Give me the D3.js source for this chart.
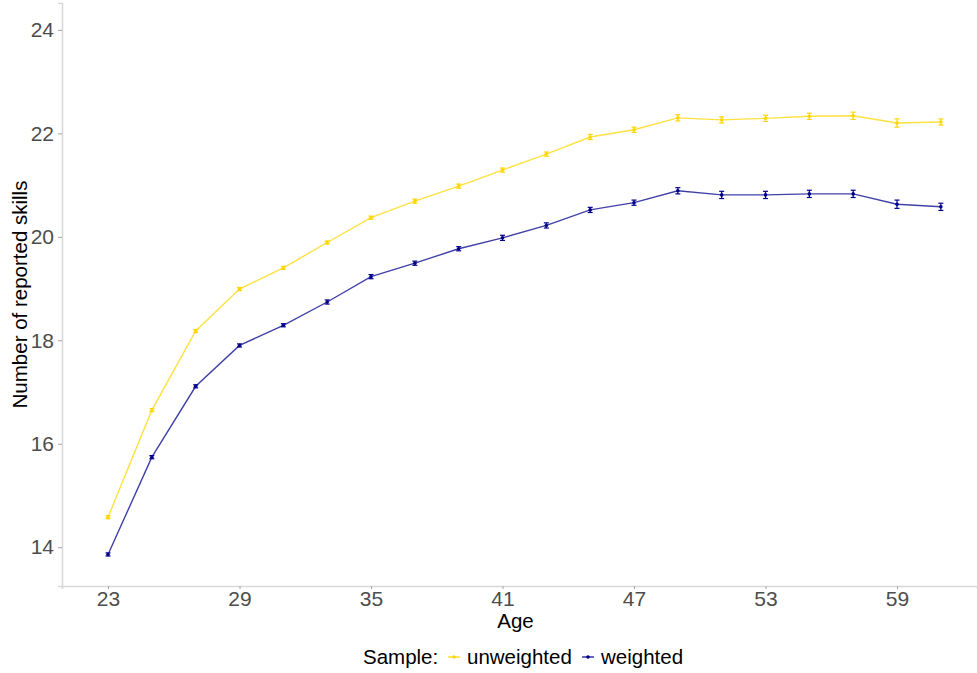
<!DOCTYPE html>
<html>
<head>
<meta charset="utf-8">
<script src="https://cdn.jsdelivr.net/npm/d3@7"></script>
<style>
  body { margin: 0; background: #fff; }
  text { font-family: "Liberation Sans", Arial, sans-serif; }
</style>
</head>
<body>
<div id="chart"></div>
<script>
// --- Data ---
const ages = [23, 25, 27, 29, 31, 33, 35, 37, 39, 41, 43, 45, 47, 49, 51, 53, 55, 57, 59, 61];
const unweighted = [14.58, 16.65, 18.18, 18.99, 19.40, 19.89, 20.37, 20.69, 20.98, 21.29, 21.60, 21.93, 22.07, 22.30, 22.26, 22.29, 22.33, 22.34, 22.20, 22.22];
const unweightedSE = [0.03, 0.03, 0.03, 0.03, 0.03, 0.03, 0.03, 0.04, 0.04, 0.04, 0.04, 0.05, 0.05, 0.06, 0.06, 0.06, 0.06, 0.07, 0.08, 0.06];
const weighted = [13.86, 15.74, 17.11, 17.90, 18.29, 18.74, 19.23, 19.49, 19.77, 19.98, 20.22, 20.52, 20.66, 20.89, 20.81, 20.81, 20.83, 20.83, 20.63, 20.58];
const weightedSE = [0.03, 0.03, 0.03, 0.03, 0.03, 0.04, 0.04, 0.04, 0.04, 0.05, 0.05, 0.05, 0.05, 0.06, 0.07, 0.07, 0.07, 0.07, 0.08, 0.07];
const xTicks = [23, 29, 35, 41, 47, 53, 59];
const yTicks = [14, 16, 18, 20, 22, 24];
const seriesNames = ["unweighted", "weighted"];
const seriesColors = ["#FFD700", "#00008B"];

const W = 977, H = 673;
const margin = { top: 3, right: 0, bottom: 87, left: 62 };
const width = W - margin.left - margin.right,
      height = H - margin.top - margin.bottom;

const svg = d3.select("#chart").append("svg")
  .attr("width", W).attr("height", H);
const g = svg.append("g")
  .attr("transform", `translate(${margin.left},${margin.top})`);

// --- Scales ---
const x = d3.scaleLinear().domain([20.9, 62.65]).range([0, width]);
const y = d3.scaleLinear().domain([13.25, 24.52]).range([height, 0]);

// --- Axes ---
const xAxis = g.append("g")
  .attr("transform", `translate(0,${height})`)
  .call(d3.axisBottom(x).tickValues(xTicks).tickSize(3).tickPadding(2).tickFormat(d3.format("d")));
const yAxis = g.append("g")
  .call(d3.axisLeft(y).tickValues(yTicks).tickSize(4).tickPadding(4).tickFormat(d3.format("d")));

[xAxis, yAxis].forEach(a => {
  a.select(".domain").attr("stroke", "#d9d9d9").attr("stroke-width", 1.6);
  a.selectAll(".tick line").attr("stroke", "#a6a6a6");
  a.selectAll(".tick text")
    .attr("fill", "#4d4d4d")
    .style("font-size", "21px")
    .style("font-family", "'Liberation Sans', Arial, sans-serif");
});

// --- Series ---
const series = seriesNames.map((name, i) => ({
  name,
  color: seriesColors[i],
  values: ages.map((a, j) => ({
    age: a,
    v: i === 0 ? unweighted[j] : weighted[j],
    se: i === 0 ? unweightedSE[j] : weightedSE[j]
  }))
}));

const line = d3.line().x(d => x(d.age)).y(d => y(d.v));

series.forEach(s => {
  g.append("path")
    .datum(s.values)
    .attr("fill", "none")
    .attr("stroke", s.color)
    .attr("stroke-opacity", 0.75)
    .attr("stroke-width", 1.4)
    .attr("d", line);

  const eb = g.append("g").selectAll("g")
    .data(s.values).enter().append("g")
    .attr("stroke", s.color).attr("stroke-width", 1.2);
  eb.append("line")
    .attr("x1", d => x(d.age)).attr("x2", d => x(d.age))
    .attr("y1", d => y(d.v - d.se)).attr("y2", d => y(d.v + d.se));
  eb.append("line")
    .attr("x1", d => x(d.age) - 2.5).attr("x2", d => x(d.age) + 2.5)
    .attr("y1", d => y(d.v - d.se)).attr("y2", d => y(d.v - d.se));
  eb.append("line")
    .attr("x1", d => x(d.age) - 2.5).attr("x2", d => x(d.age) + 2.5)
    .attr("y1", d => y(d.v + d.se)).attr("y2", d => y(d.v + d.se));

  g.append("g").selectAll("circle")
    .data(s.values).enter().append("circle")
    .attr("cx", d => x(d.age)).attr("cy", d => y(d.v))
    .attr("r", 1.8).attr("fill", s.color);
});

// --- Axis titles ---
svg.append("text")
  .attr("x", margin.left + width / 2 - 4)
  .attr("y", 628)
  .attr("text-anchor", "middle")
  .style("font-size", "20.5px")
  .attr("fill", "#000")
  .text("Age");

svg.append("text")
  .attr("transform", "rotate(-90)")
  .attr("x", -(margin.top + height / 2))
  .attr("y", 27)
  .attr("text-anchor", "middle")
  .style("font-size", "20.5px")
  .attr("fill", "#000")
  .text("Number of reported skills");

// --- Legend ---
const legend = svg.append("g").attr("transform", "translate(363,664)");
legend.append("text").attr("x", 0).attr("y", 0)
  .style("font-size", "20.5px").text("Sample:");
const keyX = [85, 219];
series.forEach((s, i) => {
  const k = legend.append("g").attr("transform", `translate(${keyX[i]},-7)`);
  k.append("line").attr("x1", 0).attr("x2", 12).attr("y1", 0).attr("y2", 0)
    .attr("stroke", s.color).attr("stroke-width", 1.2);
  k.append("circle").attr("cx", 6).attr("cy", 0).attr("r", 1.8).attr("fill", s.color);
  legend.append("text").attr("x", keyX[i] + 19).attr("y", 0)
    .style("font-size", "20.5px").text(s.name);
});
</script>
</body>
</html>
